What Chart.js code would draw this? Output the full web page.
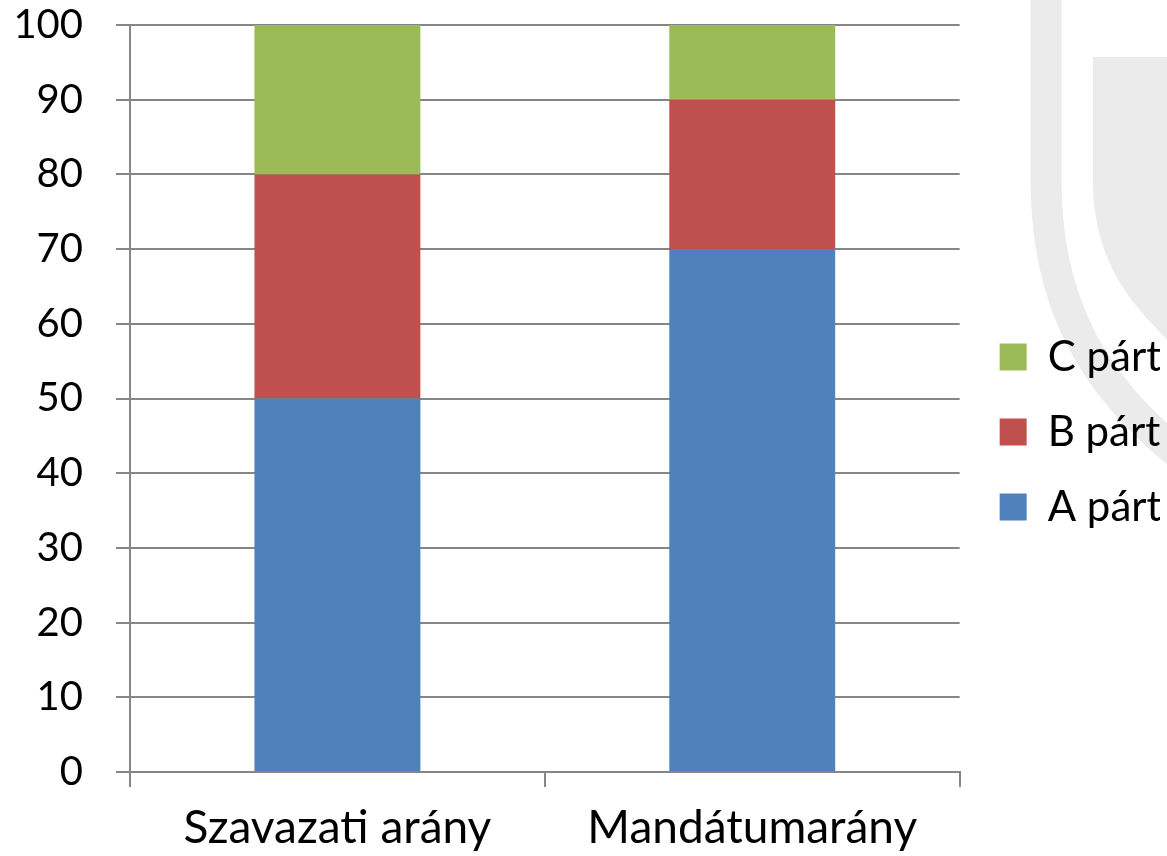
<!DOCTYPE html>
<html>
<head>
<meta charset="utf-8">
<script src="https://cdn.jsdelivr.net/npm/chart.js@4"></script>
<style>
  body { margin: 0; background: #fff; }
  #wrap { position: relative; width: 1167px; height: 856px; overflow: hidden; }
  #bg { position: absolute; left: 0; top: 0; }
  #chart { position: absolute; left: 0; top: 0; }
</style>
</head>
<body>
<div id="wrap">
  <!-- faint watermark behind the chart -->
  <svg id="bg" width="1167" height="856">
    <path d="M1046,0 V180 C1046,300 1090,390 1200,470" stroke="#ebebeb" stroke-width="31" fill="none"/>
    <path d="M1093,57 H1167 V340 C1140,310 1093,270 1093,180 Z" fill="#ebebeb"/>
  </svg>
  <canvas id="chart" width="1167" height="856"></canvas>
</div>
<script>
const categories = ['Szavazati arány', 'Mandátumarány'];
const aPart = [50, 70];
const bPart = [30, 20];
const cPart = [20, 10];
const yTicks = [0, 10, 20, 30, 40, 50, 60, 70, 80, 90, 100];

const gridColor = '#868686';
const fontFamily = 'Lato, "Open Sans", sans-serif';

const chartCanvas = document.getElementById('chart');

function drawChart() {
    new Chart(chartCanvas, {
        type: 'bar',
        data: {
            labels: categories,
            datasets: [
                { label: 'A párt', data: aPart, backgroundColor: '#4f81bd' },
                { label: 'B párt', data: bPart, backgroundColor: '#c0504d' },
                { label: 'C párt', data: cPart, backgroundColor: '#9bbb59' }
            ]
        },
        options: {
            responsive: false,
            animation: false,
            layout: {
                padding: { left: 0, top: 0, right: 7, bottom: 0 }
            },
            datasets: {
                bar: { categoryPercentage: 0.4, barPercentage: 1, borderWidth: 0 }
            },
            plugins: {
                tooltip: { enabled: false },
                legend: {
                    position: 'right',
                    reverse: true,
                    title: { display: true, text: '', font: { size: 1 }, padding: { top: 7, bottom: 0 } },
                    labels: {
                        boxWidth: 27,
                        boxHeight: 27,
                        padding: 33,
                        color: '#000',
                        font: { family: fontFamily, size: 42 }
                    }
                }
            },
            scales: {
                x: {
                    stacked: true,
                    grid: {
                        drawOnChartArea: false,
                        drawTicks: true,
                        tickLength: 15,
                        color: gridColor,
                        lineWidth: 2
                    },
                    border: { color: gridColor, width: 2 },
                    ticks: {
                        color: '#000',
                        padding: 14,
                        font: { family: fontFamily, size: 46 }
                    },
                    afterFit: function (axis) {
                        axis.height = 84;
                    }
                },
                y: {
                    stacked: true,
                    min: yTicks[0],
                    max: yTicks[yTicks.length - 1],
                    afterBuildTicks: function (axis) {
                        axis.ticks = yTicks.map(v => ({ value: v }));
                    },
                    grid: {
                        color: gridColor,
                        lineWidth: 2,
                        tickLength: 14
                    },
                    border: { color: gridColor, width: 2 },
                    ticks: {
                        color: '#000',
                        padding: 33,
                        font: { family: fontFamily, size: 40 }
                    },
                    afterFit: function (axis) {
                        axis.width = 130;
                        axis.paddingTop = 25;
                        axis.paddingBottom = 0;
                    }
                },
                // empty axis that keeps a gap between the plot and the legend
                gap: {
                    type: 'linear',
                    position: 'right',
                    display: true,
                    grid: { display: false },
                    border: { display: false },
                    ticks: { display: false },
                    afterFit: function (axis) {
                        axis.width = 7;
                        axis.paddingTop = 0;
                        axis.paddingBottom = 0;
                    }
                }
            }
        }
    });
}

// make sure Lato is ready so the legend is measured with the right font
document.fonts.load('42px Lato').then(drawChart, drawChart);
</script>
</body>
</html>
